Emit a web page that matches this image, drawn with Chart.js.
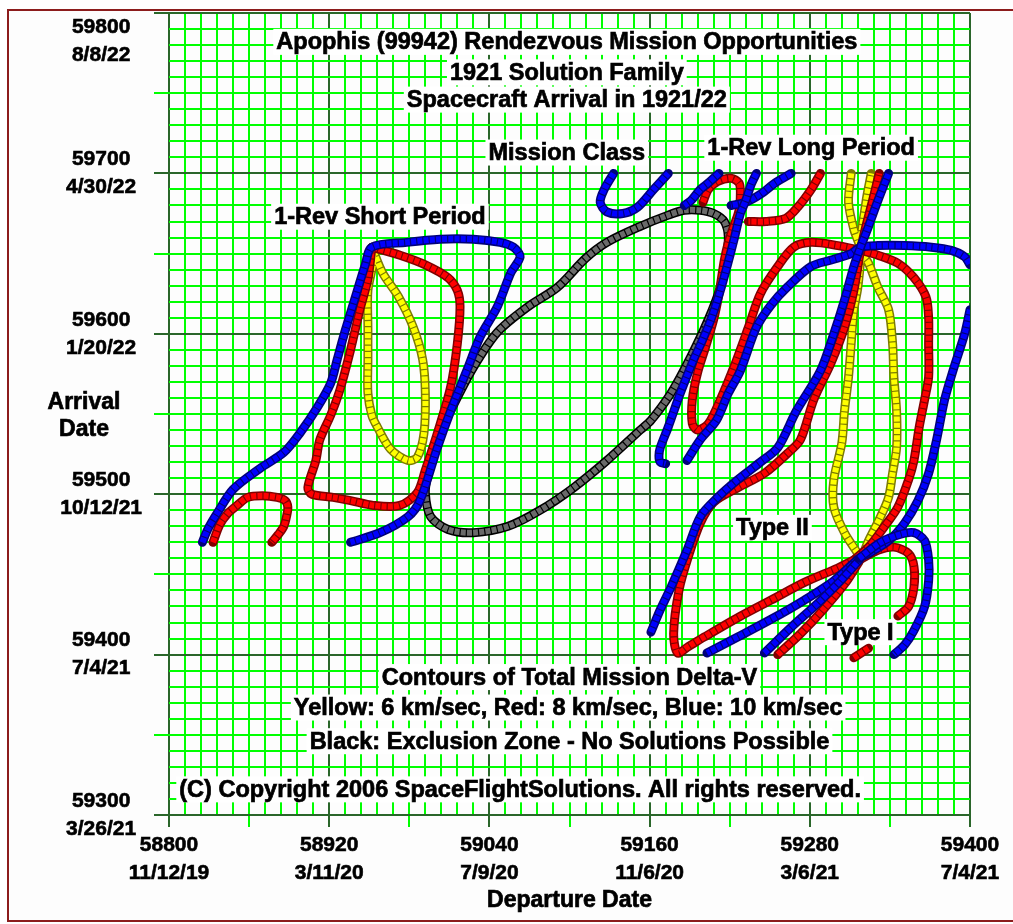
<!DOCTYPE html>
<html>
<head>
<meta charset="utf-8">
<script src="https://cdn.jsdelivr.net/npm/chart.js@4.4.0/dist/chart.umd.min.js"></script>
<style>
  html, body { margin: 0; padding: 0; background: #fff; overflow: hidden; }
  #wrap { position: absolute; left: 0; top: 0; width: 1013px; height: 924px; }
</style>
</head>
<body>
<div id="wrap"><canvas id="porkchopChart"></canvas></div>
<script>
// axis ticks: MJD value + calendar date
const depTicks = [58800, 58920, 59040, 59160, 59280, 59400];
const depDates = ['11/12/19', '3/11/20', '7/9/20', '11/6/20', '3/6/21', '7/4/21'];
const arrTicks = [59300, 59400, 59500, 59600, 59700, 59800];
const arrDates = ['3/26/21', '7/4/21', '10/12/21', '1/20/22', '4/30/22', '8/8/22'];

// contour lines, [departure MJD, arrival MJD]
const blackZone = [[58994,59513],[58998,59529],[59011,59552],[59028,59579],[59046,59601],[59069,59617],[59091,59629],[59112,59647],[59128,59657],[59153,59667],[59174,59674],[59186,59677],[59198,59677],[59208,59675],[59216,59670],[59219,59660],[59217,59646],[59213,59629],[59204,59609],[59191,59586],[59176,59563],[59161,59546],[59153,59540],[59128,59521],[59103,59504],[59078,59490],[59054,59480],[59028,59476],[59009,59478],[58996,59486],[58992,59501],[58994,59513]];

const yellowShort = [[58952,59654],[58953,59645],[58949,59627],[58949,59604],[58949,59584],[58949,59563],[58952,59549],[58956,59542],[58966,59528],[58979,59521],[58986,59523],[58991,59538],[58992,59563],[58990,59584],[58983,59604],[58972,59623],[58960,59638],[58952,59654]];
const yellowLong = [[59311,59700],[59309,59682],[59313,59665],[59318,59652],[59316,59629],[59313,59615],[59311,59594],[59309,59573],[59306,59552],[59304,59532],[59298,59509],[59298,59492],[59306,59476],[59316,59463],[59318,59460],[59324,59471],[59333,59486],[59339,59498],[59342,59513],[59345,59529],[59345,59552],[59343,59573],[59342,59594],[59339,59615],[59331,59629],[59324,59644],[59318,59652],[59322,59682],[59326,59700]];

const redHook = [[58833,59470],[58838,59481],[58844,59488],[58851,59493],[58859,59498],[58870,59499],[58881,59498],[58887,59496],[58889,59492],[58888,59486],[58886,59480],[58882,59475],[58877,59470]];
const redShort = [[58952,59654],[58949,59634],[58943,59615],[58936,59590],[58928,59565],[58921,59549],[58913,59534],[58910,59521],[58904,59504],[58907,59500],[58923,59498],[58936,59496],[58953,59493],[58973,59493],[58986,59501],[58992,59515],[59001,59538],[59011,59567],[59016,59594],[59018,59617],[59016,59627],[59009,59635],[58992,59643],[58973,59649],[58952,59654]];
const redLong = [[59200,59682],[59204,59690],[59211,59695],[59221,59697],[59227,59694],[59228,59688],[59227,59677],[59223,59667],[59219,59657],[59216,59646],[59212,59625],[59208,59609],[59202,59592],[59196,59576],[59192,59559],[59192,59544],[59196,59540],[59204,59544],[59213,59559],[59223,59579],[59234,59604],[59243,59625],[59256,59642],[59268,59654],[59281,59657],[59301,59655],[59318,59652],[59331,59649],[59346,59644],[59358,59635],[59367,59623],[59369,59610],[59369,59594],[59369,59573],[59366,59559],[59362,59542],[59358,59521],[59354,59509],[59346,59492],[59336,59480],[59324,59467],[59313,59459]];
const redTypeII = [[59313,59459],[59301,59454],[59276,59445],[59251,59434],[59226,59423],[59201,59411],[59189,59405],[59181,59401],[59178,59413],[59182,59440],[59189,59461],[59198,59482],[59208,59495],[59226,59504],[59246,59513],[59264,59526],[59273,59534],[59283,59559],[59296,59582],[59306,59604],[59313,59627],[59318,59652],[59322,59667],[59327,59683],[59332,59700]];
const redTopRight = [[59288,59700],[59281,59690],[59271,59679],[59262,59672],[59247,59670],[59234,59670]];
const redTypeI = [[59256,59400],[59273,59413],[59290,59428],[59307,59445],[59317,59458]];
const redTypeILoop = [[59317,59459],[59331,59465],[59343,59467],[59354,59463],[59358,59455],[59358,59442],[59354,59430],[59346,59424]];
const redDash = [[59313,59398],[59324,59404]];

const blueShort = [[58825,59470],[58829,59478],[58836,59488],[58848,59503],[58868,59516],[58886,59526],[58898,59538],[58911,59554],[58921,59569],[58926,59584],[58932,59602],[58940,59624],[58947,59643],[58952,59654],[58978,59657],[59003,59659],[59028,59659],[59048,59657],[59058,59654],[59063,59648],[59056,59638],[59046,59617],[59033,59598],[59024,59579],[59011,59552],[59001,59529],[58988,59496],[58979,59486],[58958,59476],[58936,59470]];
const blueU = [[59133,59700],[59126,59690],[59123,59682],[59128,59676],[59140,59675],[59151,59679],[59163,59690],[59174,59700]];
const blueE = [[59212,59700],[59204,59694],[59198,59690],[59191,59683],[59186,59680]];
const blueI = [[59266,59700],[59254,59694],[59243,59687],[59232,59682],[59221,59680]];
const blueH = [[59240,59700],[59236,59693],[59232,59683],[59228,59675],[59223,59658],[59218,59642],[59213,59627],[59206,59609],[59198,59593],[59193,59584],[59183,59563],[59174,59542],[59168,59529],[59167,59524],[59168,59520],[59172,59519]];
const blueG = [[59188,59521],[59198,59534],[59210,59546],[59219,59563],[59228,59577],[59240,59604],[59251,59618],[59263,59629],[59281,59642],[59296,59646],[59311,59650],[59318,59654],[59331,59655],[59351,59655],[59371,59654],[59386,59652],[59396,59648],[59400,59643]];
const blueTypeII = [[59161,59414],[59168,59428],[59176,59442],[59188,59465],[59198,59486],[59211,59498],[59226,59509],[59243,59520],[59256,59529],[59270,59552],[59288,59577],[59298,59600],[59306,59621],[59313,59642],[59318,59654],[59324,59667],[59331,59683],[59339,59700]];
const blueRightArc = [[59400,59615],[59396,59600],[59388,59579],[59381,59559],[59375,59534],[59369,59513],[59361,59496],[59351,59482],[59339,59471],[59324,59463],[59317,59460],[59298,59446],[59276,59434],[59251,59422],[59226,59411],[59203,59401]];
const blueTypeI = [[59246,59401],[59266,59417],[59286,59432],[59303,59446],[59317,59459]];
const blueTypeILoop = [[59317,59460],[59333,59470],[59348,59475],[59358,59476],[59366,59471],[59369,59459],[59369,59446],[59366,59430],[59358,59415],[59351,59406],[59343,59400]];

// text printed on the plot, placed in data coordinates
const notes = [
  ['Apophis (99942) Rendezvous Mission Opportunities', 59098, 59782],
  ['1921 Solution Family', 59098, 59763],
  ['Spacecraft Arrival in 1921/22', 59098, 59746],
  ['Mission Class', 59098, 59713],
  ['1-Rev Long Period', 59281, 59716],
  ['1-Rev Short Period', 58958, 59673],
  ['Type II', 59252, 59479],
  ['Type I', 59318, 59414],
  ['Contours of Total Mission Delta-V', 59100, 59386],
  ['Yellow: 6 km/sec, Red: 8 km/sec, Blue: 10 km/sec', 59099, 59367],
  ['Black: Exclusion Zone - No Solutions Possible', 59100, 59346],
  ['(C) Copyright 2006 SpaceFlightSolutions. All rights reserved.', 59063, 59316]
];

const palette = {
  black:  { edge: '#000000', fill: '#6a6a6a' },
  yellow: { edge: '#7c7c00', fill: '#ffff00' },
  red:    { edge: '#800000', fill: '#ff0000' },
  blue:   { edge: '#00007a', fill: '#0000ff' }
};

// bottom to top
const contours = [
  ['black', blackZone],
  ['yellow', yellowShort], ['yellow', yellowLong],
  ['red', redHook], ['red', redShort], ['red', redLong], ['red', redTypeII],
  ['red', redTopRight], ['red', redTypeI], ['red', redTypeILoop], ['red', redDash],
  ['blue', blueShort], ['blue', blueU], ['blue', blueE], ['blue', blueI], ['blue', blueH],
  ['blue', blueG], ['blue', blueTypeII], ['blue', blueRightArc], ['blue', blueTypeI], ['blue', blueTypeILoop]
];

const datasets = [];
contours.forEach(([kind, pts]) => {
  const data = pts.map(p => ({ x: p[0], y: p[1] }));
  const c = palette[kind];
  datasets.push({ data, showLine: true, borderColor: c.edge, borderWidth: 9, borderCapStyle: 'round', borderJoinStyle: 'round', pointRadius: 0, tension: 0.3 });
  datasets.push({ data, showLine: true, borderColor: c.fill, borderWidth: 6, borderDash: [5, 1.2], borderJoinStyle: 'round', pointRadius: 0, tension: 0.3 });
});
datasets.reverse(); // chart.js paints index 0 last

const GREEN = '#00ff00';
const DARK = '#2a662a';
const FONT = '"Liberation Sans", Arial, sans-serif';

// window frame: dark red line on top, left and bottom
const framePlugin = {
  id: 'frame',
  beforeDraw(chart) {
    const { ctx, width, height } = chart;
    ctx.save();
    ctx.fillStyle = '#ffffff';
    ctx.fillRect(0, 0, width, height);
    ctx.fillStyle = '#fdfdfd';
    ctx.fillRect(8, 11, width, 909);
    ctx.strokeStyle = '#8c1c1c';
    ctx.lineWidth = 2;
    ctx.beginPath();
    ctx.moveTo(width + 5, 10);
    ctx.lineTo(8, 10);
    ctx.lineTo(8, 921);
    ctx.lineTo(width + 5, 921);
    ctx.stroke();
    ctx.restore();
  }
};

const notePlugin = {
  id: 'notes',
  beforeDatasetsDraw(chart) {
    const { ctx, scales: { x, y } } = chart;
    ctx.save();
    ctx.font = 'bold 23.5px ' + FONT;
    ctx.textAlign = 'center';
    ctx.textBaseline = 'middle';
    ctx.lineWidth = 0.7;
    ctx.strokeStyle = '#000000';
    notes.forEach(([text, dx, dy]) => {
      const px = x.getPixelForValue(dx);
      const py = y.getPixelForValue(dy);
      const w = ctx.measureText(text).width;
      ctx.fillStyle = '#ffffff';
      ctx.fillRect(px - w / 2 - 3, py - 13, w + 6, 26);
      ctx.fillStyle = '#000000';
      ctx.fillText(text, px, py + 1);
      ctx.strokeText(text, px, py + 1);
    });
    ctx.restore();
  },
  afterDraw(chart) {
    const { ctx, chartArea } = chart;
    ctx.save();
    ctx.font = 'bold 23px ' + FONT;
    ctx.textAlign = 'center';
    ctx.textBaseline = 'middle';
    ctx.fillStyle = '#000000';
    ctx.lineWidth = 0.7;
    ctx.strokeStyle = '#000000';
    [['Arrival', chartArea.left - 85, 403], ['Date', chartArea.left - 85, 430],
     ['Departure Date', (chartArea.left + chartArea.right) / 2, 901]].forEach(([t, px, py]) => {
      ctx.fillText(t, px, py);
      ctx.strokeText(t, px, py);
    });
    ctx.restore();
  }
};

const tickFont = { family: FONT, size: 21, weight: 'bold', lineHeight: 1.33 };

const ctx = document.getElementById('porkchopChart').getContext('2d');
const porkchopChart = new Chart(ctx, {
  type: 'scatter',
  data: { datasets },
  options: {
    responsive: true,
    maintainAspectRatio: false,
    animation: false,
    layout: { padding: { top: 13, right: 43, left: 0, bottom: 0 } },
    plugins: { legend: { display: false }, tooltip: { enabled: false } },
    scales: {
      x: {
        type: 'linear',
        min: 58800,
        max: 59400,
        afterFit: (s) => { s.height = 109; s.paddingLeft = 0; s.paddingRight = 0; },
        border: { display: false },
        grid: {
          lineWidth: 2,
          tickLength: 12,
          tickWidth: 2,
          color: (c) => (c.tick && c.tick.value % 120 === 0) ? DARK : GREEN,
          tickColor: (c) => !c.tick ? 'transparent' : (c.tick.value % 120 === 0 ? DARK : (c.tick.value % 60 === 0 ? GREEN : 'transparent'))
        },
        ticks: {
          stepSize: 12,
          autoSkip: false,
          maxRotation: 0,
          minRotation: 0,
          padding: 4,
          color: '#000',
          textStrokeColor: '#000',
          textStrokeWidth: 0.6,
          font: tickFont,
          callback: (v) => {
            const i = depTicks.indexOf(v);
            return i < 0 ? '' : [String(v), depDates[i]];
          }
        }
      },
      y: {
        type: 'linear',
        min: 59300,
        max: 59800,
        afterFit: (s) => { s.width = 169; s.paddingTop = 0; s.paddingBottom = 0; },
        border: { display: false },
        grid: {
          lineWidth: 2,
          tickLength: 15,
          tickWidth: 2,
          color: (c) => (c.tick && c.tick.value % 100 === 0) ? DARK : GREEN,
          tickColor: (c) => !c.tick ? 'transparent' : (c.tick.value % 100 === 0 ? DARK : (c.tick.value % 50 === 0 ? GREEN : 'transparent'))
        },
        ticks: {
          stepSize: 10,
          autoSkip: false,
          crossAlign: 'center',
          padding: 12,
          color: '#000',
          textStrokeColor: '#000',
          textStrokeWidth: 0.6,
          font: tickFont,
          callback: (v) => {
            const i = arrTicks.indexOf(v);
            if (i < 0) return '';
            const lbl = [String(v), arrDates[i]];
            return v === 59800 ? ['', ''].concat(lbl) : lbl;
          }
        }
      }
    }
  },
  plugins: [framePlugin, notePlugin]
});
</script>
</body>
</html>
